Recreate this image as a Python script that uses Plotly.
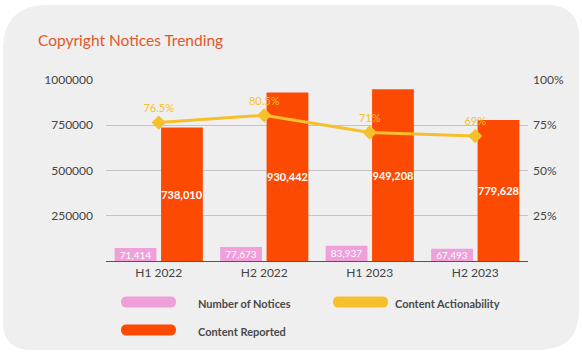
import plotly.graph_objects as go

categories = ["H1 2022", "H2 2022", "H1 2023", "H2 2023"]
notices = [71414, 77673, 83937, 67493]
reported = [738010, 930442, 949208, 779628]
actionability = [76.5, 80.5, 71, 69]
action_labels = ["76.5%", "80.5%", "71%", "69%"]
left_ticks = [250000, 500000, 750000, 1000000]
left_tick_text = ["250000", "500000", "750000", "1000000"]
right_ticks = [25, 50, 75, 100]
right_tick_text = ["25%", "50%", "75%", "100%"]

PINK = "#ef9fda"
ORANGE = "#fd4a03"
YELLOW = "#f6bf2c"
FONT = "Lato"

W, H = 582, 356
ML, MR, MT, MB = 106, 54, 80, 95
PW = W - ML - MR
PH = H - MT - MB

fig = go.Figure()
fig.add_trace(go.Bar(
    x=categories, y=notices, name="Number of Notices",
    marker=dict(color=PINK, line=dict(width=0)),
    text=[f"{v:,}" for v in notices], textposition="inside",
    insidetextanchor="middle", constraintext="none",
    textfont=dict(color="white", size=10, family=FONT),
))
fig.add_trace(go.Bar(
    x=categories, y=reported, name="Content Reported",
    marker=dict(color=ORANGE, line=dict(width=0)),
    text=[f"<b>{v:,}</b>" for v in reported], textposition="inside",
    insidetextanchor="middle", constraintext="none",
    textfont=dict(color="white", size=11, family=FONT),
    textangle=0,
))
fig.add_trace(go.Scatter(
    x=categories, y=actionability, name="Content Actionability",
    yaxis="y2", mode="lines+markers+text",
    line=dict(color=YELLOW, width=3),
    marker=dict(symbol="diamond", size=11, color=YELLOW),
    text=action_labels, textposition="top center",
    textfont=dict(color=YELLOW, size=11, family=FONT),
    cliponaxis=False,
))


def px(x):
    return (x - ML) / PW


def py(y):
    return 1 - (y - MT) / PH


def conv(path):
    out = []
    for tok in path.split(" "):
        if "," in tok:
            a, b = tok.split(",")
            out.append(f"{px(float(a)):.5f},{py(float(b)):.5f}")
        else:
            out.append(tok)
    return " ".join(out)


x0, x1, y0, y1 = 3, 579, 5, 350
rtl, rtr, rbr, rbl = 45, 32, 40, 28
card = (
    f"M {x0+rtl},{y0} L {x1-rtr},{y0} Q {x1},{y0} {x1},{y0+rtr} "
    f"L {x1},{y1-rbr} Q {x1},{y1} {x1-rbr},{y1} "
    f"L {x0+rbl},{y1} Q {x0},{y1} {x0},{y1-rbl} "
    f"L {x0},{y0+rtl} Q {x0},{y0} {x0+rtl},{y0} Z"
)

shapes = [dict(type="path", xref="paper", yref="paper", path=conv(card),
               fillcolor="#efefef", line=dict(width=0), layer="below")]


def pill(xa, xb, yc, color, h=11):
    r = h / 2
    p = (f"M {xa+r},{yc-r} L {xb-r},{yc-r} Q {xb},{yc-r} {xb},{yc} Q {xb},{yc+r} {xb-r},{yc+r} "
         f"L {xa+r},{yc+r} Q {xa},{yc+r} {xa},{yc} Q {xa},{yc-r} {xa+r},{yc-r} Z")
    return dict(type="path", xref="paper", yref="paper", path=conv(p),
                fillcolor=color, line=dict(width=0), layer="above")


shapes.append(pill(121, 176, 302, PINK))
shapes.append(pill(333, 388, 302, YELLOW))
shapes.append(pill(121, 176, 330, ORANGE))


def label(text, x, y, size, color, bold=False):
    return dict(text=f"<b>{text}</b>" if bold else text, xref="paper", yref="paper",
                x=px(x), y=py(y), xanchor="left", yanchor="middle", showarrow=False,
                font=dict(size=size, color=color, family=FONT))


annotations = [
    label("Copyright Notices Trending", 36, 40, 15.5, "#e2572b"),
    label("Number of Notices", 196, 303, 11, "#4a4a4a", True),
    label("Content Actionability", 393, 303, 11, "#4a4a4a", True),
    label("Content Reported", 196, 331, 11, "#4a4a4a", True),
]

fig.update_layout(
    width=W, height=H,
    margin=dict(l=ML, r=MR, t=MT, b=MB),
    paper_bgcolor="white", plot_bgcolor="rgba(0,0,0,0)",
    barmode="group", bargap=0.12, bargroupgap=0.1,
    showlegend=False,
    font=dict(family=FONT, color="#444444", size=12),
    xaxis=dict(showgrid=False, showline=True, linecolor="#555555", linewidth=1.2,
               ticks="", tickfont=dict(size=12, color="#444444")),
    yaxis=dict(range=[0, 1000000], tickvals=left_ticks, ticktext=left_tick_text,
               showgrid=True, gridcolor="#c4c4c4", gridwidth=1, zeroline=False,
               ticks="", ticklabelstandoff=12, tickfont=dict(size=12, color="#444444")),
    yaxis2=dict(range=[0, 100], tickvals=right_ticks, ticktext=right_tick_text,
                overlaying="y", side="right", showgrid=False, zeroline=False,
                ticks="", ticklabelstandoff=4, tickfont=dict(size=12, color="#444444")),
    shapes=shapes, annotations=annotations,
)

fig.write_html("out.html", config={"displayModeBar": False},
               post_script="document.body.style.margin='0';")
